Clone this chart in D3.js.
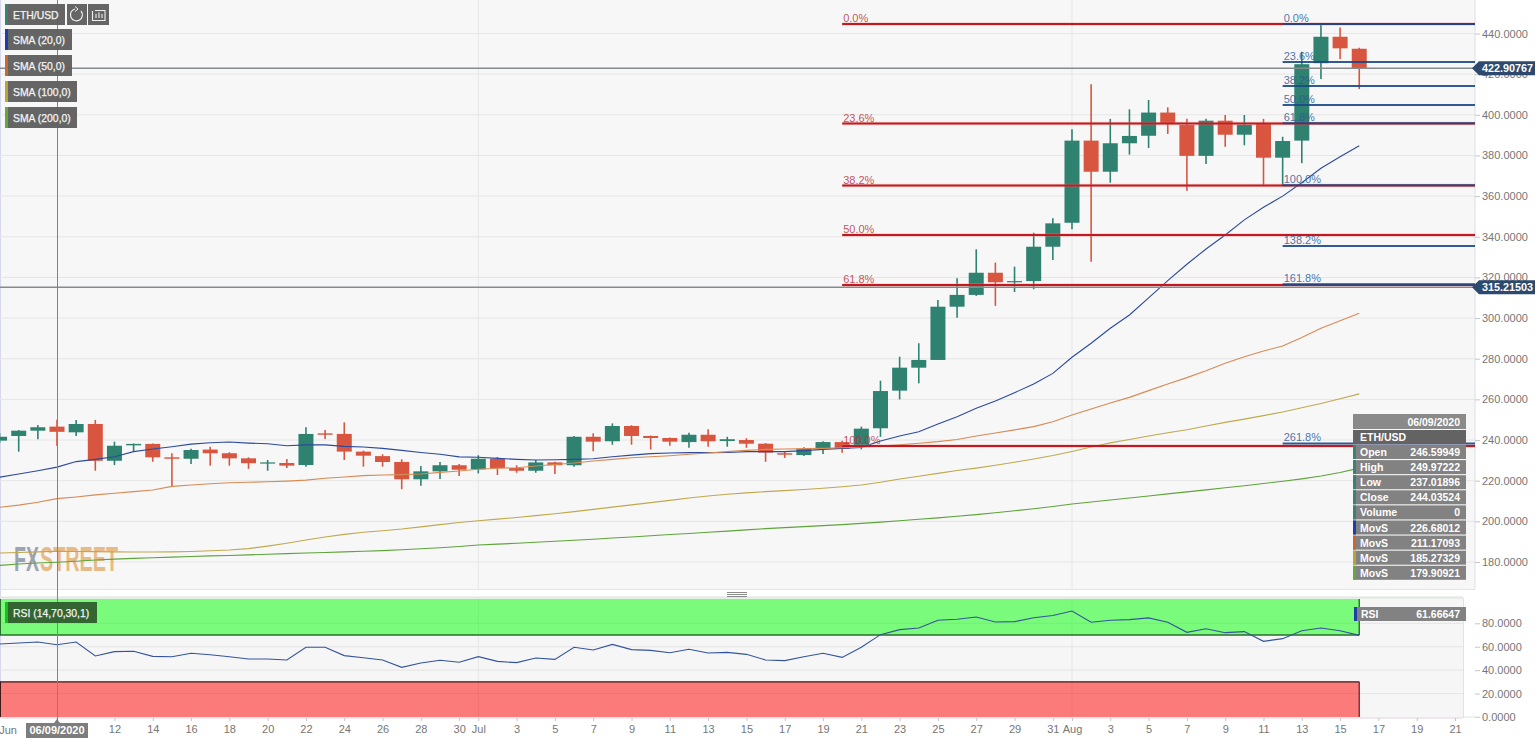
<!DOCTYPE html>
<html lang="en">
<head>
<meta charset="UTF-8">
<title>ETH/USD</title>
<script src="https://d3js.org/d3.v7.min.js"></script>
<style>
  html, body { margin: 0; padding: 0; background: #fff; overflow: hidden; }
  svg { display: block; font-family: "Liberation Sans", Arial, sans-serif; }
  .tick-label { font-size: 11px; fill: #767676; }
</style>
</head>
<body>
<div id="chart"></div>
<script>
// daily candles, 6 Jun to 16 Aug 2020
const opens = [239.7,242,244.6,246.6,243.8,247.9,229.8,237.4,238.1,231.5,230.8,235.3,233.5,231,228.4,228.7,227.7,243.3,243,234.3,232.1,229.2,220.7,224.6,227.6,
  225.6,230.8,226.2,224.9,229,227.6,241.6,239.4,246.9,242,241,239,242.6,239.5,240,238.2,233.5,232.6,235.7,239,236.7,245.8,264.3,275.6,279.4,305.6,311.4,322.3,317.6,318.2,335.1,
  346.9,387.3,372,386,389.7,401.1,395,379.8,397.1,390.2,395.5,378.9,387.3,425.4,438.4,432.5];
const highs = [243.5,244.9,247.4,249.97,249.9,249.9,239.2,238.3,238.3,233.5,235.7,236.7,234,231.5,230.2,230.7,246.3,244.9,248.7,234.8,233,230.5,227.2,229.2,228.2,
  232.5,231.7,227.6,230.2,229.3,242,243.3,248.2,247.3,242.2,241.3,243.6,245.3,241.6,240.9,238.5,234.3,236.4,239.4,239.7,246.6,269.2,281,287.6,308.9,319.6,333.8,327.3,325.3,342,349.1,
  392.9,415,398,402.7,407.3,403.7,398,398,399.9,399.9,398,389.2,431,444.2,442.9,433];
const lows = [238.5,234.3,240.4,237.02,242,224.9,227.7,234.3,229.3,217.4,228.2,227.4,227.4,225.8,224.9,226.2,226.9,240.5,230.2,226.9,226.9,215.8,217.5,220.8,222.3,
  223.6,222.8,223.9,223.9,223.3,226.9,234.5,237.7,237.7,235.4,237.2,236.2,236.7,236.7,236.2,229.3,231.2,232.1,233.1,233.8,235.4,241.6,260,267.9,279.4,300.2,310.9,306,312.8,314.2,328.6,
  343.7,327.7,366.6,380.4,383.7,390.6,362.7,375.8,384.3,385,365,365,376.2,417.6,427.5,412.7];
const closes = [241.6,244.6,246.3,244.04,247.9,229.8,237.2,238.1,231.5,230.8,235.1,233.5,231,228.6,229,227.4,243,242.6,234.3,232.3,229.2,220.7,224.6,227.6,225.4,
  230.8,226.2,224.9,229,227.6,241.6,239.2,246.9,242,241,239.2,242.6,239.4,240.4,238.2,233.8,232.8,235.6,239,235.7,245.6,264.1,275.6,279.4,305.6,311.4,322.3,317.6,318.2,335.1,346.6,
  387.3,372,386,389.6,401.1,395.5,379.8,397.1,390.2,395.1,378.9,387.1,424.9,438.4,432.7,422.9];

const sma20 = [221.7,223.3,224.9,226.68,229.4,230.5,231.8,234.3,235.6,236.7,238,238.7,239,238.5,238.2,237.2,237.6,237.6,236.9,236.6,235.9,234.9,233.9,233,231.7,
  231.5,231,230.5,230.2,230.3,230.5,230.8,231.8,232.6,233.3,233.6,233.8,233.8,233.9,234.3,234.3,234.3,234.8,235.4,235.9,236.4,239.5,242,244.1,247.9,251.5,255.6,259.2,263.3,267.6,272.8,
  280.7,287.6,295,301.5,309.9,318.4,326.5,334,340.9,348.3,354.5,360,366.6,373.7,379.4,384.8];
const sma50 = [206.9,208,209.4,211.17,212,213,213.8,214.6,215.4,217.2,217.9,218.5,219,219.2,219.5,219.8,220.3,221.2,221.8,222.5,222.8,223,223.3,224.1,224.8,
  225.6,226.1,226.4,227.2,228,228.7,229.7,230.5,231.3,231.8,232.3,233,233.6,234.3,234.9,235.4,235.6,235.8,235.9,236.2,236.6,237,237.6,238.4,239.2,240.3,242,243.5,245,246.6,249,
  252.3,255.3,258.2,261,264.3,267.6,270.7,274.1,277.8,281,283.8,286.3,290.5,295,298.7,302.4];
const sma100 = [184.4,184.7,185,185.27,185.2,185.1,185,184.9,184.9,185,185.2,185.5,185.9,186.6,187.8,189.2,190.8,192.3,193.6,194.6,195.4,196.2,197.3,198.4,199.4,
  200.3,201.1,201.9,202.8,203.7,204.8,205.9,207,208.1,209.2,210.3,211.5,212.5,213.3,214,214.6,215.1,215.7,216.3,217,217.9,219.2,220.8,222.2,223.6,225,226.2,227.6,229.1,230.7,232.4,
  234.4,236.6,238.6,240.3,242,243.6,245.1,246.9,248.7,250.3,252,253.8,255.9,258,260.3,262.7];
const sma200 = [178.3,179,179.5,179.91,180.4,181,181.4,181.8,182.1,182.4,182.7,183,183.2,183.5,183.8,184.1,184.4,184.7,185,185.3,185.6,186,186.5,187,187.6,
  188.4,188.8,189.2,189.7,190.2,190.7,191.2,191.8,192.3,192.9,193.5,194,194.6,195.2,195.8,196.4,196.9,197.4,197.9,198.4,199,199.6,200.3,201,201.7,202.5,203.3,204.2,205.2,206.2,207.3,
  208.5,209.5,210.5,211.5,212.5,213.5,214.5,215.5,216.5,217.5,218.6,219.7,220.9,222.3,224,226.2];
const rsi = [62.3,63.2,64,61.67,64,52.1,55.8,56.1,51.8,51.5,54.4,53.2,51.5,49.5,49.5,48.7,59.5,59.5,52.4,50.6,48.7,42.4,46.1,48.4,46.7,
  51.5,47.5,46.4,50.4,49.2,59.5,57.2,62,57.5,56.9,54.9,57.8,54.6,55.2,53.5,48.7,48.1,51.5,54.4,50.9,59.5,70.3,74.6,76,82.6,83.4,85.4,81.1,81.4,84.8,86.6,
  90.5,80.9,82.6,83.1,84.6,80.9,72.3,75.4,72,72.9,64.6,66.9,73.7,76,73.7,69.7];

// fibonacci retracements
const fibRedNames = ["0.0%", "23.6%", "38.2%", "50.0%", "61.8%", "100.0%"];
const fibRedPrices = [444.7, 395.7, 365.2, 340.9, 316.3, 237.1];
const fibBlueNames = ["0.0%", "23.6%", "38.2%", "50.0%", "61.8%", "100.0%", "138.2%", "161.8%", "261.8%"];
const fibBluePrices = [444.7, 426, 414.2, 404.8, 395.9, 365.4, 335.5, 316.7, 238.3];

const priceTicks = [180, 200, 220, 240, 260, 280, 300, 320, 340, 360, 380, 400, 420, 440];
const rsiTicks = [0, 20, 40, 60, 80];
const dayTicks = ["2020-06-12","2020-06-14","2020-06-16","2020-06-18","2020-06-20","2020-06-22","2020-06-24","2020-06-26","2020-06-28","2020-06-30",
  "2020-07-01","2020-07-03","2020-07-05","2020-07-07","2020-07-09","2020-07-11","2020-07-13","2020-07-15","2020-07-17","2020-07-19","2020-07-21","2020-07-23","2020-07-25","2020-07-27","2020-07-29","2020-07-31",
  "2020-08-01","2020-08-03","2020-08-05","2020-08-07","2020-08-09","2020-08-11","2020-08-13","2020-08-15","2020-08-17","2020-08-19","2020-08-21"];

const infoNames = ["Open", "High", "Low", "Close", "Volume", "MovS", "MovS", "MovS", "MovS"];
const infoValues = ["246.59949", "249.97222", "237.01896", "244.03524", "0", "226.68012", "211.17093", "185.27329", "179.90921"];
const infoColors = ["#3a8373", "#3a8373", "#3a8373", "#3a8373", "#3a8373", "#1f3fa8", "#c9682f", "#b9a436", "#62ab3a"];
const smaNames = ["SMA (20,0)", "SMA (50,0)", "SMA (100,0)", "SMA (200,0)"];
const smaColors = ["#1f3fa8", "#c9682f", "#b9a436", "#62ab3a"];

const utc = d3.utcParse("%Y-%m-%d");
const days = d3.utcDay.range(utc("2020-06-06"), utc("2020-08-17"));
const candles = days.map((d, i) => ({ date: d, o: opens[i], h: highs[i], l: lows[i], c: closes[i] }));

const width = 1536, height = 741;
const plotRight = 1475;

const x = d3.scaleUtc().domain([utc("2020-06-09"), utc("2020-08-21")]).range([57, 1455]);
const y = d3.scaleLinear().domain([180, 440]).range([562, 33.5]);
const yRsi = d3.scaleLinear().domain([0, 80]).range([717, 623.3]);

const svg = d3.select("#chart").append("svg").attr("width", width).attr("height", height);

// pane backgrounds
svg.append("rect").attr("x", 0).attr("y", 0).attr("width", plotRight).attr("height", 589).attr("fill", "#f7f7f7");
svg.append("rect").attr("x", 0).attr("y", 598).attr("width", plotRight - 12).attr("height", 120).attr("fill", "#f6f6f6");
svg.append("rect").attr("x", 0).attr("y", 0).attr("width", 1).attr("height", 718).attr("fill", "#d5d8ea");
svg.append("line").attr("x1", plotRight).attr("x2", plotRight).attr("y1", 0).attr("y2", 589).attr("stroke", "#dcdfe6");
svg.append("line").attr("x1", 0).attr("x2", plotRight).attr("y1", 589.5).attr("y2", 589.5).attr("stroke", "#e4e4e4");
svg.append("line").attr("x1", 0).attr("x2", 1463).attr("y1", 597.5).attr("y2", 597.5).attr("stroke", "#dfe8e2").attr("stroke-width", 2);
svg.append("line").attr("x1", 1463.5).attr("x2", 1463.5).attr("y1", 598).attr("y2", 718).attr("stroke", "#e0e2e8");
svg.append("line").attr("x1", 0).attr("x2", 1463).attr("y1", 718).attr("y2", 718).attr("stroke", "#e2d6e0");

// pane grip
[592, 594, 596].forEach(g => {
  svg.append("line").attr("x1", 727).attr("x2", 747).attr("y1", g + 0.5).attr("y2", g + 0.5).attr("stroke", "#8a8a8a");
});

// gridlines
svg.append("g").selectAll("line").data(priceTicks).join("line")
  .attr("x1", 0).attr("x2", plotRight).attr("y1", d => y(d)).attr("y2", d => y(d))
  .attr("stroke", "#e6e6e6");
svg.append("g").selectAll("line").data(rsiTicks.slice(1)).join("line")
  .attr("x1", 0).attr("x2", 1463).attr("y1", d => yRsi(d)).attr("y2", d => yRsi(d))
  .attr("stroke", "#e4e4e4");
svg.append("g").selectAll("line").data(["2020-07-01", "2020-08-01"]).join("line")
  .attr("x1", d => x(utc(d))).attr("x2", d => x(utc(d))).attr("y1", 0).attr("y2", 589)
  .attr("stroke", "#e6e6e6");
svg.append("g").selectAll("line").data(["2020-07-01", "2020-08-01"]).join("line")
  .attr("x1", d => x(utc(d))).attr("x2", d => x(utc(d))).attr("y1", 598).attr("y2", 718)
  .attr("stroke", "#e6e6e6");

// watermark, two separate words so each can be fitted
const markFont = "'Liberation Sans Narrow', 'Liberation Sans', sans-serif";
svg.append("text").attr("x", 14).attr("y", 571).attr("font-family", markFont)
  .attr("font-weight", "bold").attr("font-size", 35).attr("textLength", 25).attr("lengthAdjust", "spacingAndGlyphs")
  .attr("fill", "#7e8a96").attr("opacity", 0.75).text("FX");
svg.append("text").attr("x", 40).attr("y", 571).attr("font-family", markFont)
  .attr("font-weight", "bold").attr("font-size", 35).attr("textLength", 78).attr("lengthAdjust", "spacingAndGlyphs")
  .attr("fill", "#e3a65f").attr("opacity", 0.75).text("STREET");

// candles
const upColor = "#2f8170", downColor = "#d8563f";
const candle = svg.append("g").selectAll("g").data(candles).join("g");
candle.append("line")
  .attr("x1", d => x(d.date)).attr("x2", d => x(d.date))
  .attr("y1", d => y(d.h)).attr("y2", d => y(d.l))
  .attr("stroke", d => d.c >= d.o ? upColor : downColor).attr("stroke-width", 1.6);
candle.append("rect")
  .attr("x", d => x(d.date) - 7.5).attr("width", 15)
  .attr("y", d => y(Math.max(d.o, d.c)))
  .attr("height", d => Math.max(1.2, Math.abs(y(d.o) - y(d.c))))
  .attr("fill", d => d.c >= d.o ? upColor : downColor);

// moving averages
const smaLine = d3.line().x((d, i) => x(days[i])).y(d => y(d));
[sma20, sma50, sma100, sma200].forEach((s, i) => {
  svg.append("path").datum(s).attr("d", smaLine).attr("fill", "none")
    .attr("stroke", ["#2c4a9c", "#d88a55", "#bfa94c", "#5ea43a"][i]).attr("stroke-width", 1.1);
});

// green and red RSI bands, see-through so the grid shows
const bandRight = x(days[days.length - 1]);
svg.append("rect").attr("x", 0).attr("width", bandRight).attr("y", 599).attr("height", yRsi(70) - 599).attr("fill", "#00ff00").attr("fill-opacity", 0.5);
svg.append("rect").attr("x", 0).attr("width", bandRight).attr("y", yRsi(30)).attr("height", yRsi(0) - yRsi(30)).attr("fill", "#ff0000").attr("fill-opacity", 0.5);
svg.append("line").attr("x1", 0).attr("x2", bandRight).attr("y1", yRsi(70)).attr("y2", yRsi(70)).attr("stroke", "#2b6e2b").attr("stroke-width", 1.4);
svg.append("line").attr("x1", 0).attr("x2", bandRight).attr("y1", yRsi(30)).attr("y2", yRsi(30)).attr("stroke", "#401818").attr("stroke-width", 1.2);
svg.append("line").attr("x1", bandRight).attr("x2", bandRight).attr("y1", 599).attr("y2", yRsi(70)).attr("stroke", "#2b6e2b").attr("stroke-width", 1.4);
svg.append("line").attr("x1", bandRight).attr("x2", bandRight).attr("y1", yRsi(30)).attr("y2", yRsi(0)).attr("stroke", "#7a3030").attr("stroke-width", 1.4);
svg.append("line").attr("x1", 0.5).attr("x2", 0.5).attr("y1", 599).attr("y2", yRsi(70)).attr("stroke", "#2b6e2b");
svg.append("line").attr("x1", 0.5).attr("x2", 0.5).attr("y1", yRsi(30)).attr("y2", yRsi(0)).attr("stroke", "#401818");

// rsi line
svg.append("path").datum(rsi)
  .attr("d", d3.line().x((d, i) => x(days[i])).y(d => yRsi(d)))
  .attr("fill", "none").attr("stroke", "#33549c").attr("stroke-width", 1.1);

// grey price lines
[422.91, 315.2].forEach(p => {
  svg.append("line").attr("x1", 0).attr("x2", plotRight).attr("y1", y(p)).attr("y2", y(p))
    .attr("stroke", "#868c8e").attr("stroke-width", 1.6);
});

// fib levels
const fibRedStart = x(utc("2020-07-20")), fibBlueStart = x(utc("2020-08-12"));
fibRedPrices.forEach((p, i) => {
  svg.append("line").attr("x1", fibRedStart).attr("x2", plotRight).attr("y1", y(p)).attr("y2", y(p))
    .attr("stroke", "#e88a8a").attr("stroke-width", 3.4).attr("stroke-opacity", 0.35);
  svg.append("line").attr("x1", fibRedStart).attr("x2", plotRight).attr("y1", y(p)).attr("y2", y(p))
    .attr("stroke", "#c2181f").attr("stroke-width", 2);
  svg.append("text").attr("x", fibRedStart + 1).attr("y", y(p) - 2).attr("font-size", 11)
    .attr("fill", "#b8323c").attr("fill-opacity", 0.85).text(fibRedNames[i]);
});
fibBluePrices.forEach((p, i) => {
  svg.append("line").attr("x1", fibBlueStart).attr("x2", plotRight).attr("y1", y(p)).attr("y2", y(p))
    .attr("stroke", "#1b4786").attr("stroke-width", 2).attr("stroke-opacity", 0.9);
  svg.append("text").attr("x", fibBlueStart + 1).attr("y", y(p) - 2).attr("font-size", 11)
    .attr("fill", "#2a5b97").attr("fill-opacity", 0.85).text(fibBlueNames[i]);
});

// crosshair
svg.append("line").attr("x1", x(utc("2020-06-09")) + 0.5).attr("x2", x(utc("2020-06-09")) + 0.5).attr("y1", 0).attr("y2", 724)
  .attr("stroke", "#818385").attr("stroke-width", 1);

// axes
const priceAxis = d3.axisRight(y).tickValues(priceTicks).tickFormat(d3.format(".4f")).tickSize(5).tickPadding(2);
const gPrice = svg.append("g").attr("transform", `translate(${plotRight},0)`).call(priceAxis);
const rsiAxis = d3.axisRight(yRsi).tickValues(rsiTicks).tickFormat(d3.format(".4f")).tickSize(5).tickPadding(2);
const gRsi = svg.append("g").attr("transform", `translate(${plotRight},0)`).call(rsiAxis);
const timeAxis = d3.axisBottom(x).tickValues(dayTicks.map(d => utc(d))).tickSize(3).tickPadding(6)
  .tickFormat(d => {
    const day = d.getUTCDate();
    return day === 1 ? d3.utcFormat("%b")(d) : day;
  });
const gTime = svg.append("g").attr("transform", "translate(0,718)").call(timeAxis);
[gPrice, gRsi, gTime].forEach(g => {
  g.attr("font-family", null).attr("font-size", null);
  g.select(".domain").remove();
  g.selectAll(".tick line").attr("stroke", "#c4c6cc");
  g.selectAll(".tick text").attr("class", "tick-label");
});
svg.append("line").attr("x1", 1463).attr("x2", plotRight + 5).attr("y1", 717).attr("y2", 717).attr("stroke", "#e0e2e8");
gTime.selectAll(".tick text").attr("y", 7);
svg.append("text").attr("class", "tick-label").attr("x", 8).attr("y", 734).attr("text-anchor", "middle").text("Jun");

// date tag under the crosshair
svg.append("path").attr("d", "M26,723H54L57,719L60,723H88V738H26Z").attr("fill", "#7d7d7d");
svg.append("text").attr("x", 57).attr("y", 734).attr("text-anchor", "middle").attr("font-size", 11)
  .attr("font-weight", "bold").attr("fill", "#fff").text("06/09/2020");

// last-price badges
[[422.91, "422.90767"], [315.2, "315.21503"]].forEach(([p, label]) => {
  const py = y(p);
  svg.append("path").attr("d", `M1472,${py}L1479,${py - 7}H1535V${py + 7}H1479Z`).attr("fill", "#2d4a6e");
  svg.append("text").attr("x", 1482).attr("y", py + 4).attr("font-size", 10.8).attr("font-weight", "bold")
    .attr("fill", "#fff").text(label);
});

// info box
const boxX = 1353, boxW = 113;
svg.append("rect").attr("x", boxX).attr("y", 414).attr("width", boxW).attr("height", 15).attr("fill", "#8a8a8a");
svg.append("text").attr("x", boxX + 107).attr("y", 425.5).attr("text-anchor", "end").attr("font-size", 10.5).attr("font-weight", "bold").attr("fill", "#fff").text("06/09/2020");
svg.append("rect").attr("x", boxX).attr("y", 430).attr("width", boxW).attr("height", 14).attr("fill", "#636363");
svg.append("text").attr("x", boxX + 7).attr("y", 441).attr("font-size", 10.5).attr("font-weight", "bold").attr("fill", "#fff").text("ETH/USD");
infoNames.forEach((n, i) => {
  const top = 445 + i * 15.1;
  svg.append("rect").attr("x", boxX).attr("y", top).attr("width", boxW).attr("height", 14).attr("fill", "#828282");
  svg.append("rect").attr("x", boxX).attr("y", top).attr("width", 3).attr("height", 14).attr("fill", infoColors[i]);
  svg.append("text").attr("x", boxX + 7).attr("y", top + 11).attr("font-size", 10.5).attr("font-weight", "bold").attr("fill", "#fff").text(n);
  svg.append("text").attr("x", boxX + 107).attr("y", top + 11).attr("text-anchor", "end").attr("font-size", 10.5).attr("font-weight", "bold").attr("fill", "#fff").text(infoValues[i]);
});

// rsi info
svg.append("rect").attr("x", 1354).attr("y", 607).attr("width", 112).attr("height", 14).attr("fill", "#828282");
svg.append("rect").attr("x", 1354).attr("y", 607).attr("width", 3).attr("height", 14).attr("fill", "#1f3fa8");
svg.append("text").attr("x", 1361).attr("y", 618).attr("font-size", 10.5).attr("font-weight", "bold").attr("fill", "#fff").text("RSI");
svg.append("text").attr("x", 1460).attr("y", 618).attr("text-anchor", "end").attr("font-size", 10.5).attr("font-weight", "bold").attr("fill", "#fff").text("61.66647");

// top-left buttons
function button(bx, by, w, h, fill, strip, label) {
  svg.append("rect").attr("x", bx).attr("y", by).attr("width", w).attr("height", h).attr("fill", fill).attr("fill-opacity", 0.96);
  if (strip) svg.append("rect").attr("x", bx).attr("y", by).attr("width", 3).attr("height", h).attr("fill", strip);
  if (label) svg.append("text").attr("x", bx + 8).attr("y", by + h / 2 + 4).attr("font-size", 10.4)
    .attr("fill", "#f4f4f4").attr("stroke", "#f4f4f4").attr("stroke-width", 0.25).text(label);
}
button(5, 4, 60, 21, "#5f5f5f", "#3a8373", "ETH/USD");
button(67, 4, 20, 21, "#5f5f5f");
button(88, 4, 21, 21, "#5f5f5f");
svg.append("path").attr("d", "M81,11A6,6,0,1,1,75,9").attr("fill", "none").attr("stroke", "#eee").attr("stroke-width", 1.2);
svg.append("path").attr("d", "M75,6.5L78,9L75,11.5").attr("fill", "none").attr("stroke", "#eee").attr("stroke-width", 1);
svg.append("path").attr("d", "M92.5,11V20.5H105V10.5H95M96,18V14M99,18V12.5M102,18V14").attr("fill", "none").attr("stroke", "#eee").attr("stroke-width", 1.1);

const smaBoxWidths = [67, 67, 72, 72], smaBoxTops = [29, 55, 81, 107];
smaNames.forEach((n, i) => button(5, smaBoxTops[i], smaBoxWidths[i], 21, "#5f5f5f", smaColors[i], n));
button(5, 602, 92, 21, "#2f5f2f", "#18c018", "RSI (14,70,30,1)");
</script>
</body>
</html>
